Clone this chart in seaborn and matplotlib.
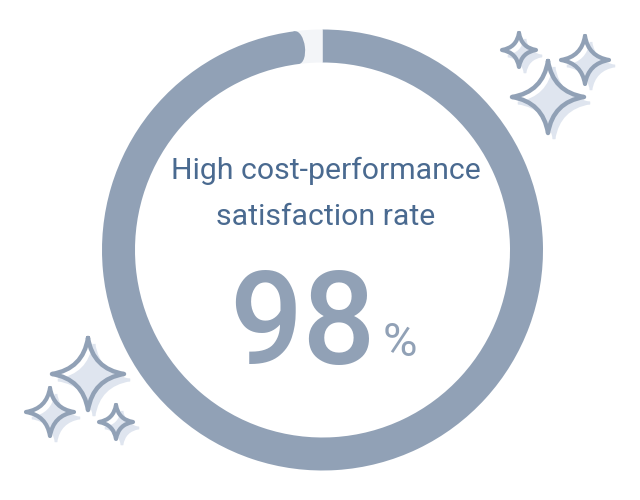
import numpy as np
import seaborn as sns
import matplotlib.pyplot as plt
from matplotlib.patches import Ellipse, PathPatch
from matplotlib.path import Path

# values
share_values = [98, 2]
title_lines = ["High cost-performance", "satisfaction rate"]
big_label = "98"
unit_label = "%"

RING = "#91a1b6"
TRACK = "#f3f5f8"
PALE = "#dfe5ef"
INK = "#4a6a90"


def star_path(cx, cy, r):
    k = 0.14 * r
    verts = [(cx, cy + r), (cx + k, cy + k), (cx + r, cy),
             (cx + k, cy - k), (cx, cy - r),
             (cx - k, cy - k), (cx - r, cy),
             (cx - k, cy + k), (cx, cy + r)]
    codes = [Path.MOVETO] + [Path.CURVE3] * 8
    return Path(verts, codes)


def draw_star(ax, px, py, r, lw):
    cy = 500 - py
    ax.add_patch(PathPatch(star_path(px + 6, cy - 6, r), fc=PALE, ec=PALE, lw=lw * 0.6))
    ax.add_patch(PathPatch(star_path(px, cy, r), fc="none", ec=RING, lw=lw,
                           capstyle="round", joinstyle="round"))


def main():
    sns.set_theme(style="white")
    plt.rcParams["font.family"] = ["Roboto", "DejaVu Sans"]

    fig, ax = plt.subplots(figsize=(6.4, 5), dpi=100)
    fig.subplots_adjust(0, 0, 1, 1)

    cx, cy, r_out, width = 322.5, 250, 220.5, 33
    ax.pie(share_values, colors=[RING, TRACK], startangle=90, counterclock=False,
           center=(cx, cy), radius=r_out,
           wedgeprops={"width": width, "linewidth": 0})
    ax.set_xlim(0, 640)
    ax.set_ylim(0, 500)
    ax.set_aspect("equal")
    ax.axis("off")

    # rounded end of the arc
    end = np.deg2rad(90 + 360 * share_values[1] / sum(share_values))
    r_mid = r_out - width / 2
    ax.add_patch(Ellipse((cx + r_mid * np.cos(end), cy + r_mid * np.sin(end)),
                         width=16, height=width,
                         angle=np.rad2deg(end) - 90, fc=RING, ec="none"))

    ax.text(326, 500 - 171, title_lines[0], fontsize=21.8, color=INK,
            ha="center", va="center")
    ax.text(326, 500 - 217, title_lines[1], fontsize=21.8, color=INK,
            ha="center", va="center")
    ax.text(302, 500 - 364, big_label, fontsize=93, color=RING, fontweight="medium",
            ha="center", va="baseline")
    ax.text(400, 500 - 356, unit_label, fontsize=34, color=RING,
            ha="center", va="baseline")

    for px, py, r, lw in [(548, 97, 36, 3.2), (519, 50, 17, 3), (585, 60, 24, 3),
                          (88, 374, 36, 3.2), (50, 412, 24, 3), (116, 422, 17, 3)]:
        draw_star(ax, px, py, r, lw)

    fig.savefig("out.png", dpi=100)


if __name__ == '__main__':
    main()
